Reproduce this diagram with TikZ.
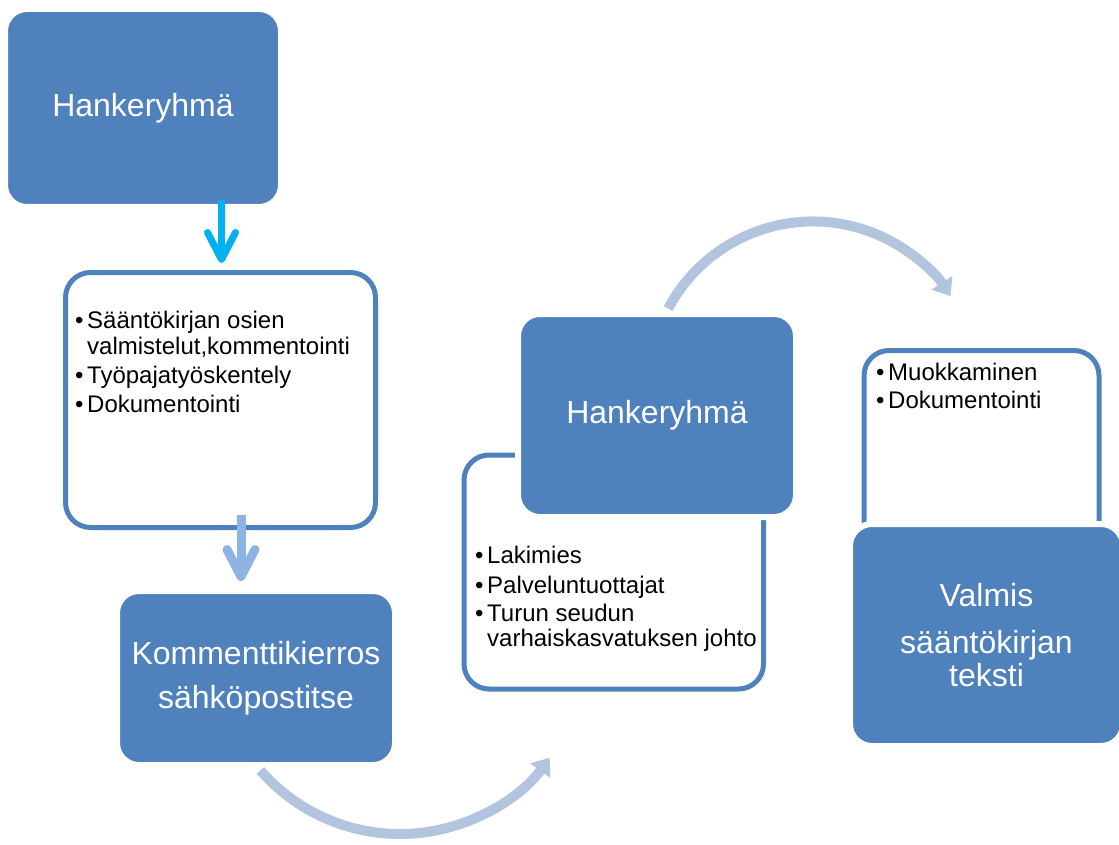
\documentclass[tikz,border=0pt]{standalone}
\usepackage{fontspec}
\setmainfont{Liberation Sans}
\usetikzlibrary{arrows.meta,calc}
\definecolor{boxblue}{HTML}{4F81BD}
\definecolor{arcblue}{HTML}{B3C4DE}
\definecolor{downblue}{HTML}{8EB4E3}
\definecolor{cyanline}{HTML}{00B0F0}
\newcommand{\bul}{\makebox[12pt][l]{•}}

\begin{document}
\begin{tikzpicture}[x=1pt,y=-1pt,
  blockbox/.style={fill=boxblue, draw=white, line width=6pt, rounded corners=22pt,
    inner sep=0pt, text=white, align=center, font=\fontsize{32}{33}\selectfont},
  listbox/.style={draw=boxblue, line width=5pt, rounded corners=25pt, fill=white, inner sep=0pt},
  itemline/.style={anchor=base west, inner sep=0pt, font=\fontsize{24}{26}\selectfont},
  flowarc/.style={draw=arcblue, line width=10pt, -{Triangle[length=16pt,width=24pt]}},
  downarrow/.style={line width=#1, -{Straight Barb[length=27pt,width=28pt,line width=#1,round]}},
]
\useasboundingbox (0,0) rectangle (1119,845);

% white list boxes (drawn first, partly covered by the blue blocks)
\node[listbox, minimum width=310pt, minimum height=255pt] (list1) at (220.5,400) {};
\node[listbox, minimum width=299.5pt, minimum height=234pt] (list2) at (613.75,572) {};
\node[listbox, minimum width=235pt, minimum height=269pt] (list3) at (981.5,485) {};

% blue blocks with a white halo
\node[blockbox, minimum width=276pt, minimum height=198pt] (hk1) at (143,108) {Hankeryhmä};
\node[blockbox, minimum width=278pt, minimum height=174pt] (kom) at (256,678)
  {Kommenttikierros\\[11pt]sähköpostitse};
\node[blockbox, minimum width=278pt, minimum height=203pt] (hk2) at (657,415.5) {Hankeryhmä};
\node[blockbox, minimum width=273pt, minimum height=222pt] (val) at (986.5,635)
  {Valmis\\[14pt]sääntökirjan\\teksti};

% bullet texts
\node[itemline] (t1a) at (75,328) {\bul Sääntökirjan osien};
\node[itemline] (t1b) at (87,354) {valmistelut,kommentointi};
\node[itemline] (t1c) at (75,383) {\bul Työpajatyöskentely};
\node[itemline] (t1d) at (75,412) {\bul Dokumentointi};

\node[itemline] (t2a) at (475,563) {\bul Lakimies};
\node[itemline] (t2b) at (475,593) {\bul Palveluntuottajat};
\node[itemline] (t2c) at (475,621) {\bul Turun seudun};
\node[itemline] (t2d) at (487,646) {varhaiskasvatuksen johto};

\node[itemline] (t3a) at (876,380) {\bul Muokkaminen};
\node[itemline] (t3b) at (876,408) {\bul Dokumentointi};

% straight down arrows
\coordinate (d1s) at (221.5,200);
\coordinate (d1e) at (221.5,263);
\draw[downarrow=7pt, cyanline] (d1s) -- (d1e);
\coordinate (d2s) at (241,515);
\coordinate (d2e) at (241,581);
\draw[downarrow=9pt, downblue] (d2s) -- (d2e);

% curved arrows
\coordinate (c1) at (400,649);
\draw[flowarc] ($(c1)+(139:185)$) arc[start angle=139, end angle=36, radius=185];
\coordinate (c2) at (813,385.5);
\draw[flowarc] ($(c2)+(-152:164)$) arc[start angle=-152, end angle=-33, radius=164];
\end{tikzpicture}
\end{document}
